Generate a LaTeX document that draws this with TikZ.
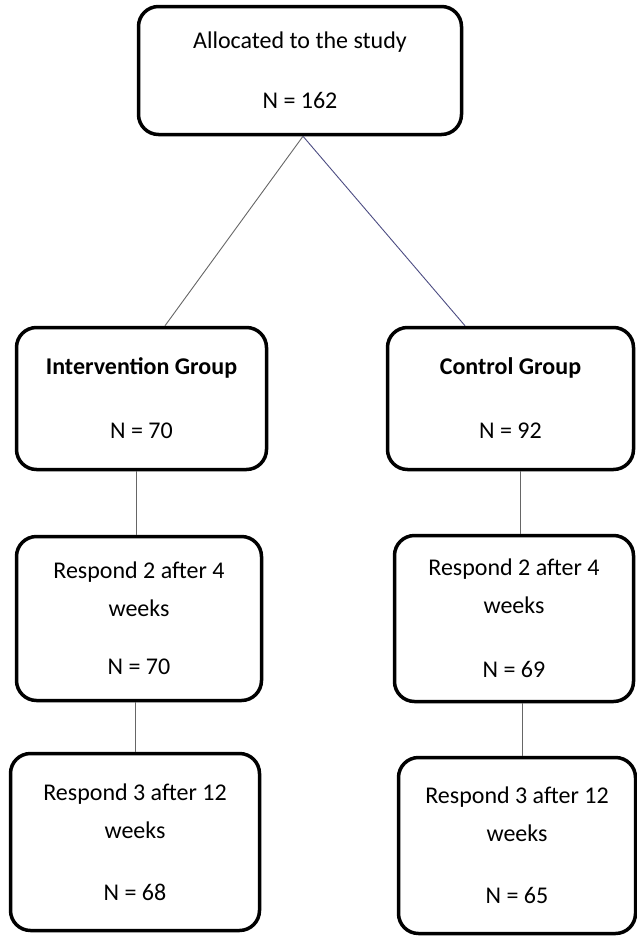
\documentclass[tikz,border=0pt]{standalone}
\usepackage{fontspec}
\setmainfont{Carlito}
\usetikzlibrary{positioning}

\begin{document}
\begin{tikzpicture}[
      x=1pt, y=-1pt,
      box/.style={
          rectangle, draw, line width=3.5pt, rounded corners=20pt,
          align=center, inner sep=0pt,
          font=\fontsize{24}{38}\selectfont
        },
      link/.style={draw, line width=0.9pt, black!60},
    ]
    \useasboundingbox (0,0) rectangle (637,937);
    % top of the tree
    \node[box, minimum width=323pt, minimum height=128pt] (alloc) at (300,70.5)
        {Allocated to the study\\[22pt]N = 162};
    % the two arms
    \node[box, minimum width=250pt, minimum height=142pt] (interv) at (141.5,398.5)
        {\textbf{Intervention Group}\\[26pt]N = 70};
    \node[box, minimum width=246pt, minimum height=142pt] (ctrl) at (510.5,398.5)
        {\textbf{Control Group}\\[26pt]N = 92};
    % follow-up after 4 weeks
    \node[box, minimum width=245pt, minimum height=164pt] (intervA) at (139,618.5)
        {Respond 2 after 4\\weeks\\[20pt]N = 70};
    \node[box, minimum width=239pt, minimum height=166pt] (ctrlA) at (514,618.5)
        {Respond 2 after 4\\weeks\\[26pt]N = 69};
    % follow-up after 12 weeks
    \node[box, minimum width=249pt, minimum height=177pt] (intervB) at (135,842)
        {Respond 3 after 12\\weeks\\[24pt]N = 68};
    \node[box, minimum width=237pt, minimum height=176pt] (ctrlB) at (517,845.5)
        {Respond 3 after 12\\weeks\\[24pt]N = 65};

    \draw[link] ([xshift=3pt]alloc.south) -- ([xshift=23.5pt]interv.north);
    \draw[link, draw=blue!30!black!70] ([xshift=3pt]alloc.south) -- ([xshift=-45.5pt]ctrl.north);
    \draw[link] ([xshift=-5.5pt]interv.south) -- ([xshift=-5.5pt]interv.south |- intervA.north);
    \draw[link] ([xshift=9.5pt]ctrl.south) -- ([xshift=9.5pt]ctrl.south |- ctrlA.north);
    \draw[link] (intervB.north |- intervA.south) -- (intervB.north);
    \draw[link] ([xshift=5.5pt]ctrlB.north |- ctrlA.south) -- ([xshift=5.5pt]ctrlB.north);
  \end{tikzpicture}
\end{document}
